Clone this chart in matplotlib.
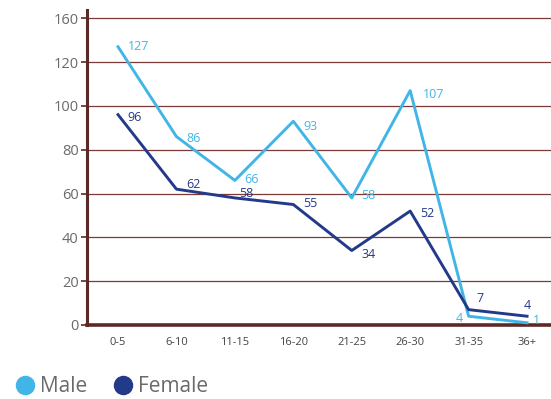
import matplotlib
matplotlib.use("Agg")
import matplotlib.pyplot as plt
from matplotlib.lines import Line2D

categories = ["0-5", "6-10", "11-15", "16-20", "21-25", "26-30", "31-35", "36+"]
male = [127, 86, 66, 93, 58, 107, 4, 1]
female = [96, 62, 58, 55, 34, 52, 7, 4]
y_tick_values = [0, 20, 40, 60, 80, 100, 120, 140]
y_tick_labels = ["0", "20", "40", "60", "80", "100", "120", "160"]

male_color = "#41b6e6"
female_color = "#233a8b"
axis_color = "#5c2a26"
grid_color = "#7a3a35"
text_color = "#6a6a6a"

plt.rcParams["font.family"] = ["Open Sans", "DejaVu Sans"]

fig = plt.figure(figsize=(5.51, 3.99), dpi=100)
ax = fig.add_axes([0.158, 0.1855, 0.842, 0.7895])

x = list(range(len(categories)))
ax.plot(x, male, color=male_color, lw=2.1, zorder=3)
ax.plot(x, female, color=female_color, lw=2.1, zorder=3)

# value labels: (dx, dy in points, ha, va)
male_off = [(7, 0, "left", "center"), (7, -1.5, "left", "center"), (7, 0.5, "left", "center"),
            (7, -3.5, "left", "center"), (7, 2, "left", "center"), (9, -3, "left", "center"),
            (-4, -1.5, "right", "center"), (4, 1.5, "left", "center")]
female_off = [(7, -2, "left", "center"), (7, 3.5, "left", "center"), (3, 3.5, "left", "center"),
              (7, 0.5, "left", "center"), (7, -3, "left", "center"), (7, -2, "left", "center"),
              (6, 8, "left", "center"), (0, 3, "center", "bottom")]
for i, v in enumerate(male):
    dx, dy, ha, va = male_off[i]
    ax.annotate(str(v), (i, v), xytext=(dx, dy), textcoords="offset points",
                ha=ha, va=va, color=male_color, fontsize=9, zorder=4)
for i, v in enumerate(female):
    dx, dy, ha, va = female_off[i]
    ax.annotate(str(v), (i, v), xytext=(dx, dy), textcoords="offset points",
                ha=ha, va=va, color=female_color, fontsize=9, zorder=4)

ax.set_xlim(-0.53, 7.41)
ax.set_ylim(0, 143.8)
ax.set_yticks(y_tick_values)
ax.set_yticklabels(y_tick_labels)
ax.set_xticks(x)
ax.set_xticklabels(categories)

for t in y_tick_values[1:]:
    ax.axhline(t, color=grid_color, lw=0.9, zorder=1)

for side in ("top", "right"):
    ax.spines[side].set_visible(False)
ax.spines["left"].set_color(axis_color)
ax.spines["left"].set_linewidth(2.2)
ax.spines["bottom"].set_color(axis_color)
ax.spines["bottom"].set_linewidth(2.6)

ax.tick_params(axis="y", colors=axis_color, length=4, width=1.2, labelsize=10.5,
               labelcolor=text_color, pad=2)
ax.tick_params(axis="x", length=0, labelsize=8, labelcolor="#444444", pad=9)

handles = [Line2D([], [], marker="o", ls="none", markersize=13, color=male_color),
           Line2D([], [], marker="o", ls="none", markersize=13, color=female_color)]
fig.legend(handles, ["Male", "Female"], loc="lower left", bbox_to_anchor=(-0.016, -0.042),
           ncol=2, frameon=False, fontsize=15, handletextpad=0.05, columnspacing=1.0,
           labelcolor=text_color, handlelength=1.4)

fig.savefig("out.png", dpi=100)
